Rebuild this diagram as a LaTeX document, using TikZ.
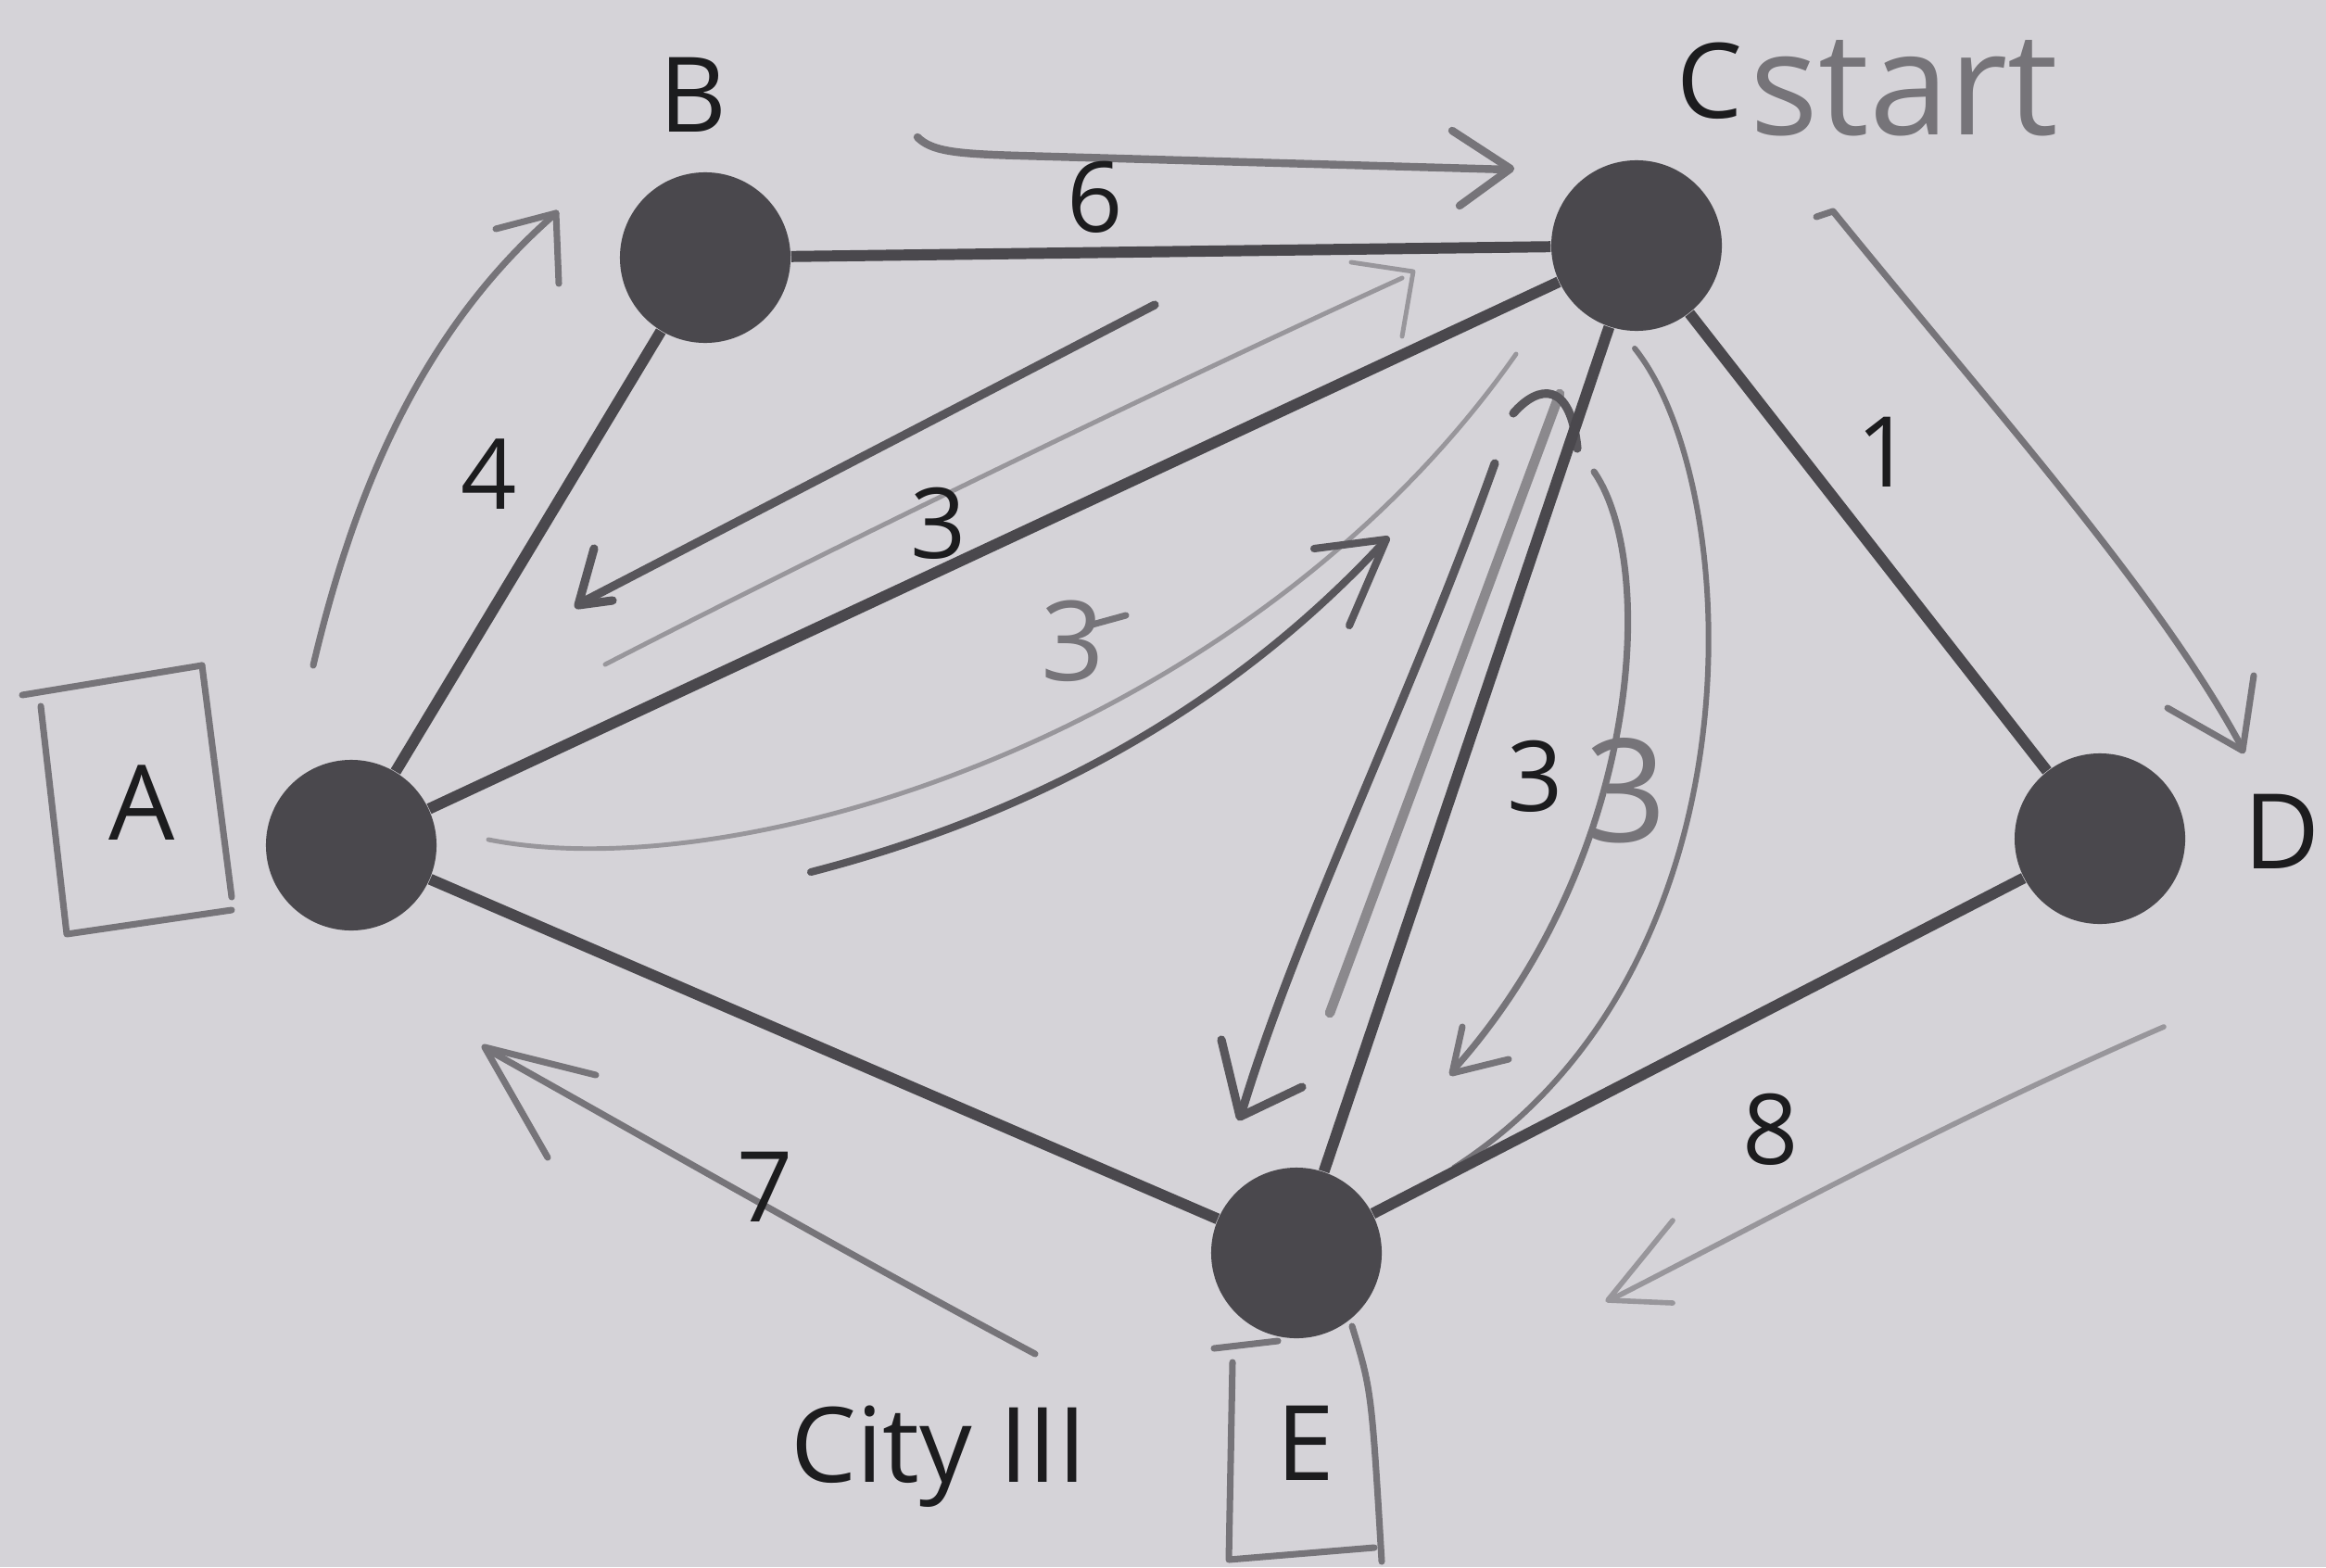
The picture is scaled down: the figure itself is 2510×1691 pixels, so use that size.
\documentclass[tikz,border=0pt]{standalone}
\usepackage{fontspec}
\setmainfont{Open Sans}
\definecolor{paper}{RGB}{213,211,216}
\definecolor{edgec}{RGB}{74,72,77}
\definecolor{ink}{RGB}{28,28,30}
\definecolor{pdark}{RGB}{88,86,91}
\definecolor{pmid}{RGB}{118,116,121}
\definecolor{plight}{RGB}{152,150,155}
\tikzset{
  city/.style={circle, fill=edgec, minimum size=1.84cm, inner sep=0pt},
  road/.style={draw=edgec, line width=3.4pt},
  wlab/.style={text=ink, font=\fontsize{30}{32}\selectfont, inner sep=0pt},
  nlab/.style={text=ink, font=\fontsize{32}{34}\selectfont, inner sep=0pt},
  handtext/.style={text=pmid, font=\fontsize{44}{46}\selectfont, inner sep=0pt},
  pen/.style={draw=pmid, line width=2pt, line cap=round, line join=round},
  pendark/.style={draw=pdark, line width=2.6pt, line cap=round, line join=round},
  penlight/.style={draw=plight, line width=1.4pt, line cap=round, line join=round},
  penthick/.style={draw=pmid, line width=3pt, line cap=round, line join=round},
}
\begin{document}
\begin{tikzpicture}[x=0.01cm,y=-0.01cm]
\fill[paper] (0,0) rectangle (2510,1691);
\useasboundingbox (0,0) rectangle (2510,1691);

% ---------- pencil annotations ----------
% A -> B
\draw[pen] (338,718) .. controls (380,540) and (450,360) .. (600,230);
\draw[pen] (535,247) -- (600,230) -- (603,306);
% B -> C
\draw[pen, line width=2.4pt] (990,148) .. controls (1005,163) and (1030,166) .. (1100,168) -- (1628,183);
\draw[pen, line width=2.4pt] (1567,141) -- (1630,182) -- (1575,222);
% C -> B (dark)
\draw[pendark] (1246,329) -- (626,651);
\draw[pendark] (641,592) -- (624,653) -- (661,648);
% thin A -> C
\draw[penlight] (653,717) .. controls (900,590) and (1250,420) .. (1513,300);
\draw[penlight] (1458,283) -- (1525,293) -- (1513,363);
% thin curve from A
\draw[penlight] (527,906) .. controls (800,960) and (1350,790) .. (1636,382);
% dark curve with arrow
\draw[pendark, line width=2.3pt] (875,941) .. controls (1150,870) and (1350,740) .. (1495,583);
\draw[pendark, line width=2.3pt] (1418,592) -- (1496,582) -- (1456,675);
% handwritten 3 with tail
\node[handtext, font=\fontsize{34}{36}\selectfont] (h3a) at (1158,692) {3};
\draw[pen] (1175,675) -- (1215,664);
% C -> E dark arrow
\draw[pendark] (1613,500) .. controls (1520,760) and (1400,1000) .. (1340,1200);
\draw[pendark] (1318,1122) -- (1338,1205) -- (1405,1173);
% E -> C grey line with hook
\draw[penthick, draw=pmid!85] (1435,1093) -- (1683,425);
\draw[pendark] (1633,446) .. controls (1660,415) and (1695,410) .. (1702,484);
% curved arrow C -> E (right)
\draw[pen] (1720,509) .. controls (1790,610) and (1770,930) .. (1568,1155);
\draw[pen] (1578,1108) -- (1567,1158) -- (1628,1143);
% outer curve C -> E
\draw[pen, line width=1.7pt] (1764,376) .. controls (1880,520) and (1910,1040) .. (1569,1260);
\node[handtext] (h3b) at (1755,853) {3};
% C -> D
\draw[pen] (1960,234) -- (1978,228) .. controls (2150,440) and (2330,640) .. (2420,808);
\draw[pen] (2339,764) -- (2420,810) -- (2432,729);
% D -> E
\draw[penlight, line width=1.6pt] (2335,1108) .. controls (2100,1210) and (1900,1320) .. (1737,1403);
\draw[penlight, line width=1.6pt] (1805,1317) -- (1735,1403) -- (1805,1406);
% City III -> A
\draw[pen] (1117,1461) .. controls (900,1345) and (700,1230) .. (525,1132);
\draw[pen] (643,1160) -- (523,1130) -- (591,1249);
% box round A
\draw[pen] (24,750) -- (218,718);
\draw[pen] (218,718) -- (250,968);
\draw[pen] (44,762) -- (72,1008) -- (250,982);
% box round E
\draw[pen] (1310,1455) -- (1379,1447);
\draw[pen] (1459,1431) .. controls (1480,1500) .. (1491,1685);
\draw[pen] (1330,1470) -- (1326,1683) -- (1483,1670);

% ---------- graph ----------
\node[city] (A) at (379,912) {};
\node[city] (B) at (761,278) {};
\node[city] (C) at (1766,265) {};
\node[city] (D) at (2266,905) {};
\node[city] (E) at (1399,1352) {};

\draw[road] (A) -- (B);
\draw[road] (B) -- (C);
\draw[road] (A) -- (C);
\draw[road] (C) -- (D);
\draw[road] (C) -- (E);
\draw[road] (A) -- (E);
\draw[road] (D) -- (E);

% node labels
\node[nlab] (tB) at (748,102) {B};
\node[nlab, anchor=base] (tC) at (1845,128) {C};
\node[handtext, anchor=base] (tstart) at (2055,146) {start};
\node[nlab] (tA) at (153,866) {A};
\node[nlab] (tD) at (2462,897) {D};
\node[nlab] (tE) at (1409,1557) {E};
\node[nlab, anchor=base] (tcity) at (1013,1599) {City III};

% weights
\node[wlab] (w6) at (1182,213) {6};
\node[wlab] (w4) at (528,512) {4};
\node[wlab] (w3a) at (1013,565) {3};
\node[wlab] (w1) at (2034,488) {1};
\node[wlab] (w3b) at (1657,838) {3};
\node[wlab] (w8) at (1911,1219) {8};
\node[wlab] (w7) at (826,1281) {7};
\end{tikzpicture}
\end{document}
